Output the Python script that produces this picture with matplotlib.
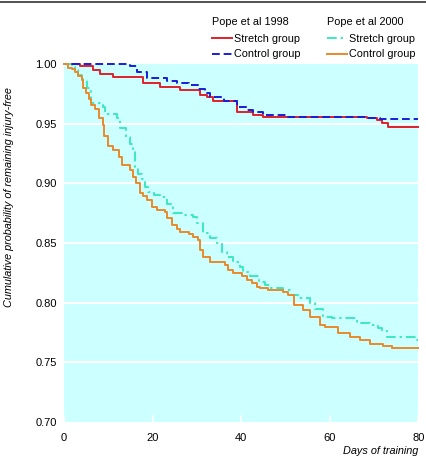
import matplotlib.pyplot as plt
from matplotlib.lines import Line2D

# Pope et al 1998
stretch98_days = [1.7, 3.6, 6.6, 8.1, 11.1, 17.9, 21.7, 26.2, 30.7, 32.2, 33.7,
                  39.0, 42.7, 45.0, 68.3, 70.6, 71.7, 73.2, 80.0]
stretch98_vals = [1.000, 0.998, 0.995, 0.992, 0.989, 0.984, 0.981, 0.978, 0.974, 0.9726, 0.969,
                  0.960, 0.957, 0.9553, 0.955, 0.953, 0.9503, 0.9475, 0.9475]
control98_days = [1.7, 14.9, 16.4, 18.7, 23.2, 25.4, 28.1, 30.3, 31.8, 33.0, 36.0,
                  39.0, 41.2, 42.7, 45.0, 50.3, 68.3, 71.3, 80.0]
control98_vals = [1.000, 0.998, 0.9935, 0.9886, 0.986, 0.984, 0.982, 0.979, 0.976, 0.9726, 0.969,
                  0.9643, 0.9615, 0.9595, 0.957, 0.9559, 0.955, 0.954, 0.954]

# Pope et al 2000
stretch00_days = [0.0, 1.7, 2.5, 3.2, 4.4, 5.1, 6.2, 8.9, 9.3, 11.9, 12.6, 14.1, 14.9, 15.6,
                  16.0, 16.8, 17.5, 18.3, 19.0, 20.2, 21.7, 23.2, 24.7, 26.9, 29.2, 30.0,
                  31.4, 33.0, 34.5, 35.6, 36.7, 38.2, 39.7, 40.5, 42.0, 43.9, 45.4, 46.5,
                  49.5, 51.0, 52.9, 55.5, 56.7, 58.5, 60.4, 66.1, 69.1, 70.9, 71.7, 72.8,
                  79.6, 80.0]
stretch00_vals = [1.000, 0.9977, 0.995, 0.991, 0.987, 0.980, 0.9676, 0.964, 0.9578, 0.955, 0.9467,
                  0.939, 0.933, 0.9266, 0.9127, 0.908, 0.904, 0.897, 0.893, 0.890, 0.8885,
                  0.883, 0.875, 0.8735, 0.872, 0.8666, 0.858, 0.854, 0.850, 0.8428, 0.8386,
                  0.8344, 0.830, 0.826, 0.822, 0.8177, 0.815, 0.812, 0.8107, 0.8065, 0.8037,
                  0.7996, 0.795, 0.7884, 0.787, 0.7828, 0.781, 0.7786, 0.776, 0.7716,
                  0.769, 0.769]
control00_days = [0.0, 1.0, 1.7, 2.5, 3.2, 4.0, 4.4, 5.0, 5.7, 6.1, 7.0, 8.0, 8.9, 9.0, 10.0,
                  11.1, 12.3, 13.0, 14.9, 15.6, 16.3, 17.2, 17.9, 18.7, 19.8, 20.9, 22.8,
                  23.2, 24.3, 25.4, 26.2, 28.1, 29.2, 30.3, 30.7, 31.4, 33.0, 36.3, 37.1,
                  38.2, 40.1, 41.2, 42.4, 43.5, 44.2, 46.1, 49.5, 50.6, 51.8, 54.0, 55.5,
                  57.8, 58.9, 61.9, 64.6, 66.8, 69.1, 72.1, 74.0, 80.0]
control00_vals = [1.000, 0.997, 0.9955, 0.9936, 0.990, 0.9866, 0.9796, 0.976, 0.971, 0.9657,
                  0.962, 0.9545, 0.949, 0.9397, 0.931, 0.928, 0.9224, 0.9154, 0.911, 0.9056,
                  0.900, 0.8917, 0.889, 0.886, 0.8805, 0.8777, 0.8763, 0.8707, 0.865, 0.8615,
                  0.859, 0.8573, 0.8554, 0.8526, 0.844, 0.8386, 0.8344, 0.8317, 0.8275,
                  0.8247, 0.822, 0.819, 0.8163, 0.8135, 0.812, 0.8107, 0.8093, 0.8065,
                  0.798, 0.794, 0.7884, 0.7814, 0.780, 0.7744, 0.7716, 0.769, 0.7655,
                  0.764, 0.762, 0.762]

x_ticks = [0, 20, 40, 60, 80]
y_ticks = [0.70, 0.75, 0.80, 0.85, 0.90, 0.95, 1.00]

plt.rcParams['font.family'] = ['Liberation Sans', 'DejaVu Sans']

W, H = 426, 466
fig = plt.figure(figsize=(W / 100, H / 100), dpi=100)
ax = fig.add_axes([64 / W, 1 - 422 / H, (418.5 - 64) / W, (422 - 64) / H])
ax.set_facecolor('#ccffff')
for s in ax.spines.values():
    s.set_visible(False)

for v in y_ticks[1:-1]:
    ax.axhline(v, color='white', lw=1.5, zorder=1)

red = '#e0202a'
blue = '#1c1cd8'
teal = '#3ce8c0'
orange = '#e8892a'
dashdot = (0, (5, 2, 1.2, 2))

ax.step(stretch00_days, stretch00_vals, where='post', color=teal, lw=1.4,
        ls=dashdot, zorder=3, clip_on=False)
ax.step(control00_days, control00_vals, where='post', color=orange, lw=1.4, zorder=3, clip_on=False)
ax.step(control98_days, control98_vals, where='post', color=blue, lw=1.4,
        ls=(0, (4, 2)), zorder=4, clip_on=False)
ax.step(stretch98_days, stretch98_vals, where='post', color=red, lw=1.4, zorder=3, clip_on=False)

ax.set_xlim(0, 80)
ax.set_ylim(0.70, 1.00)
ax.set_xticks(x_ticks)
ax.set_yticks(y_ticks)
ax.set_yticklabels([f'{v:.2f}' for v in y_ticks])
ax.tick_params(axis='x', direction='in', length=5, color='white', width=1.2, labelsize=8, pad=8)
ax.tick_params(axis='y', length=0, labelsize=8, pad=5)

fig.text(9 / W, 1 - 197 / H, 'Cumulative probability of remaining injury-free', fontsize=7.8,
         style='italic', rotation=90, ha='center', va='center')
fig.text(418 / W, 1 - 451 / H, 'Days of training', fontsize=7.8, style='italic',
         ha='right', va='center')

# top rule
fig.add_artist(Line2D([0, 1], [1 - 1.5 / H, 1 - 1.5 / H], color='#333333', lw=1.2))

leg_kw = dict(loc='upper left', bbox_transform=fig.transFigure, frameon=False, fontsize=7.8,
              title_fontsize=7.8, alignment='left', handlelength=1.8,
              handletextpad=0.25, labelspacing=0.5, borderpad=0, borderaxespad=0)
lg1 = ax.legend([Line2D([], [], color=red, lw=1.4),
                 Line2D([], [], color=blue, lw=1.4, ls=(0, (4, 2)))],
                ['Stretch group', 'Control group'], title='Pope et al 1998',
                bbox_to_anchor=(212 / W, 1 - 17 / H), **leg_kw)
lg1._legend_box.sep = 5
ax.add_artist(lg1)
lg2 = ax.legend([Line2D([], [], color=teal, lw=1.4, ls=dashdot),
                 Line2D([], [], color=orange, lw=1.4)],
                ['Stretch group', 'Control group'], title='Pope et al 2000',
                bbox_to_anchor=(327 / W, 1 - 17 / H), **leg_kw)
lg2._legend_box.sep = 5

plt.savefig('out.png', dpi=100)
